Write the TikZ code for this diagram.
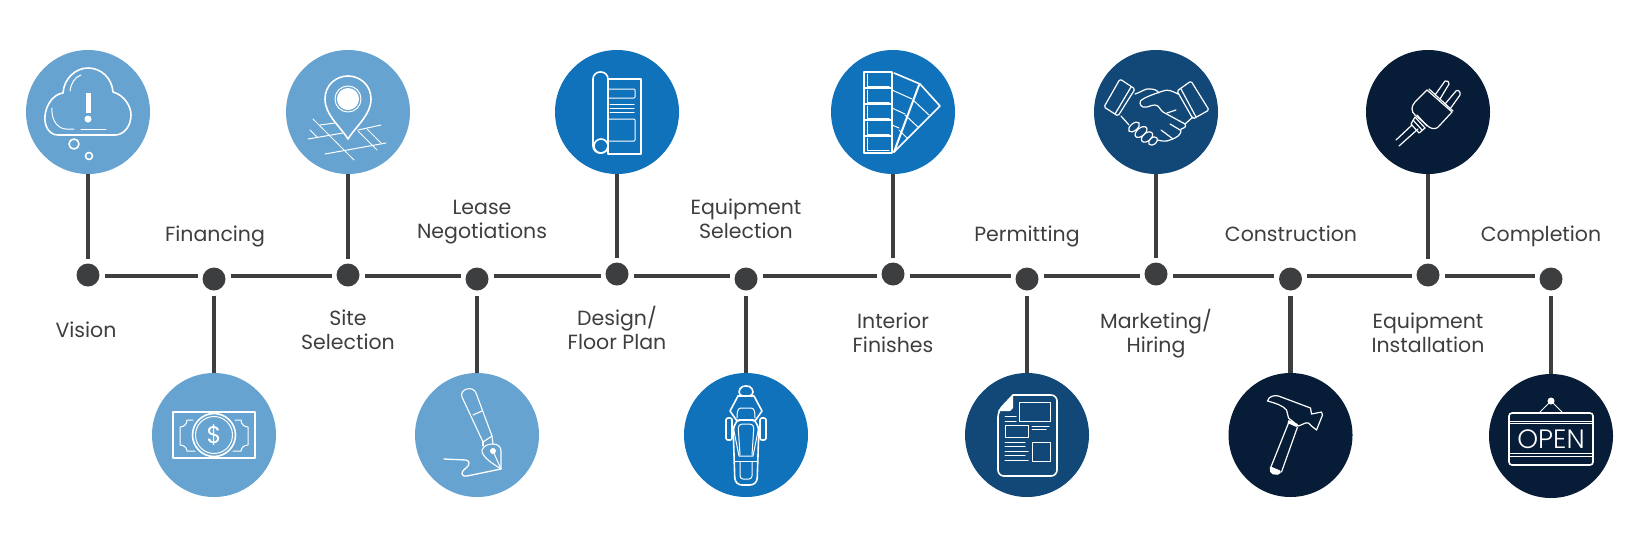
\documentclass[tikz,border=0pt]{standalone}
\usepackage{fontspec}
\setmainfont{Poppins}
\newfontfamily\signfont{Poppins Light}
\definecolor{skyblue}{HTML}{66A3D0}
\definecolor{midblue}{HTML}{1172BC}
\definecolor{deepblue}{HTML}{114878}
\definecolor{navyblue}{HTML}{071C36}
\definecolor{ink}{HTML}{3D3E40}

\begin{document}
\begin{tikzpicture}[x=1pt,y=-1pt]
  \tikzstyle{icon}=[circle,minimum size=124pt,inner sep=0pt]
  \tikzstyle{dot}=[circle,fill=ink,minimum size=23pt,inner sep=0pt,outer sep=5pt]
  \tikzstyle{wire}=[ink,line width=4.6pt]
  \tikzstyle{stage}=[text=ink,align=center,inner sep=0pt,anchor=base,font=\fontsize{20.5}{24.5}\selectfont]
  \tikzstyle{glyph}=[white,line width=1.6pt,line join=round,line cap=round]
  \tikzstyle{fine}=[line width=1pt]
  \useasboundingbox (0,0) rectangle (1648,539);

  \node[icon,fill=skyblue] (icon1) at (88,112) {};
  \node[icon,fill=skyblue] (icon2) at (214,435) {};
  \node[icon,fill=skyblue] (icon3) at (348,112) {};
  \node[icon,fill=skyblue] (icon4) at (477,435) {};
  \node[icon,fill=midblue] (icon5) at (617,112) {};
  \node[icon,fill=midblue] (icon6) at (746,435) {};
  \node[icon,fill=midblue] (icon7) at (893,112) {};
  \node[icon,fill=deepblue] (icon8) at (1027,435) {};
  \node[icon,fill=deepblue] (icon9) at (1156,112) {};
  \node[icon,fill=navyblue] (icon10) at (1290.5,435) {};
  \node[icon,fill=navyblue] (icon11) at (1428,112) {};
  \node[icon,fill=navyblue] (icon12) at (1551,436) {};

  \node[dot] (dot1) at (88,275) {};
  \node[dot] (dot2) at (214,279) {};
  \node[dot] (dot3) at (348,275) {};
  \node[dot] (dot4) at (477,279) {};
  \node[dot] (dot5) at (617,274) {};
  \node[dot] (dot6) at (746,279) {};
  \node[dot] (dot7) at (893,274) {};
  \node[dot] (dot8) at (1027,279) {};
  \node[dot] (dot9) at (1156,274) {};
  \node[dot] (dot10) at (1290.5,279) {};
  \node[dot] (dot11) at (1428,275) {};
  \node[dot] (dot12) at (1551,279) {};

  \coordinate (axis) at (0,276);
  \foreach \a/\b in {1/2,2/3,3/4,4/5,5/6,6/7,7/8,8/9,9/10,10/11,11/12}
    \draw[wire] (dot\a.east |- axis) -- (dot\b.west |- axis);
  \foreach \a in {1,...,12}
    \draw[wire] (icon\a) -- (dot\a);

  \node[stage] (vision) at (86,337) {Vision};
  \node[stage] (financing) at (215,241) {Financing};
  \node[stage] (site) at (348,349.5) {Site\\Selection};
  \node[stage] (lease) at (482,238.5) {Lease\\Negotiations};
  \node[stage] (design) at (617,349.5) {Design/\\Floor Plan};
  \node[stage] (selection) at (746,238.5) {Equipment\\Selection};
  \node[stage] (finishes) at (893,352.5) {Interior\\Finishes};
  \node[stage] (permitting) at (1027,241) {Permitting};
  \node[stage] (hiring) at (1156,352.5) {Marketing/\\Hiring};
  \node[stage] (construction) at (1291,241) {Construction};
  \node[stage] (installation) at (1428,352.5) {Equipment\\Installation};
  \node[stage] (completion) at (1541,241) {Completion};

  \begin{scope}[shift={(icon1)},glyph]
    \draw (-30,23) .. controls (-40,23) and (-44,12) .. (-43,4) .. controls (-42,-8) and (-34,-18) .. (-25,-19)
      .. controls (-24,-34) and (-12,-44) .. (0,-44) .. controls (13,-44) and (24,-34) .. (25,-20)
      .. controls (36,-17) and (43,-6) .. (43,3) .. controls (43,14) and (36,23) .. (27,23) -- cycle;
    \draw[fine] (-36,-4) .. controls (-37,8) and (-30,17) .. (-22,17) -- (-14,17);
    \draw[fine] (-7,17) -- (18,17);
    \draw[fine] (-7,-37) .. controls (-13,-35) and (-17,-29) .. (-18,-21);
    \draw[line width=5pt,line cap=butt] (0,-19) -- (0,1);
    \fill (0,7) circle (3.5);
    \draw (-14,32) circle (5);
    \draw (1,44) circle (3.5);
  \end{scope}

  \begin{scope}[shift={(icon2)},glyph]
    \draw (-41,-23) rectangle (41,23);
    \draw[fine] (-21,-15) -- (-27,-15) .. controls (-27,-11) and (-30,-8) .. (-34,-8) -- (-34,10)
      .. controls (-30,10) and (-27,13) .. (-27,16) -- (-19,16);
    \draw[fine] (21,-15) -- (27,-15) .. controls (27,-11) and (30,-8) .. (34,-8) -- (34,10)
      .. controls (30,10) and (27,13) .. (27,16) -- (19,16);
    \draw (0,0) circle (21.5);
    \draw[fine] (0,0) circle (18.5);
    \node[white,inner sep=0pt,font=\fontsize{24}{24}\selectfont] (dollar) at (0,0) {\$};
  \end{scope}

  \begin{scope}[shift={(icon3)},glyph]
    \draw (0,27) .. controls (-8,14) and (-23,3) .. (-23,-13) .. controls (-23,-27) and (-12,-36) .. (0,-36)
      .. controls (12,-36) and (23,-27) .. (23,-13) .. controls (23,3) and (8,14) .. (0,27) -- cycle;
    \fill (0,-13) circle (11);
    \draw[fine] (0,-13) circle (13);
    \draw[fine] (-35,7) -- (6,48);
    \draw[fine] (-38,18) -- (-31,25);
    \draw[fine] (-40,27) -- (-5,21);
    \draw[fine] (-28,13) -- (-13,11);
    \draw[fine] (10,18) -- (33,13);
    \draw[fine] (-23,42) -- (38,31);
    \draw[fine] (10,19) -- (29,38);
    \draw[fine] (19,17) -- (33,31);
  \end{scope}

  \begin{scope}[shift={(icon4)},glyph,line width=1.1pt]
    \draw (-15,-38) .. controls (-18,-46) and (-4,-50) .. (-1,-42) -- (15,1) -- (6,7) -- cycle;
    \draw (-4,-20) -- (5,-24);
    \draw (5,15) .. controls (7,10) and (12,9) .. (16,9) .. controls (21,9) and (24,12) .. (24,16) -- (24,34)
      .. controls (18,30) and (4,22) .. (5,15) -- cycle;
    \draw (6,7) -- (6,11);
    \draw (15,1) -- (16,9);
    \fill (16,16) circle (3);
    \draw[fine] (16,16) -- (24,34);
    \draw[line width=1.3pt] (-33,24) -- (-11,25) .. controls (-6,26) and (-8,31) .. (-11,33)
      .. controls (-16,36) and (-17,42) .. (-10,41) -- (24,34);
  \end{scope}

  \begin{scope}[shift={(icon5)},glyph]
    \draw (-9,-33) rectangle (24,42);
    \draw[rounded corners=7pt] (-24,-40) rectangle (-9,41);
    \draw (-16,34) circle (7);
    \draw[fine,rounded corners=1pt] (-9,-23) -- (18,-23) -- (18,-14) -- (-9,-14);
    \draw[fine] (-7,-7.5) -- (17,-7.5);
    \draw[fine] (-7,-3.3) -- (17,-3.3);
    \draw[fine] (-7,0.7) -- (17,0.7);
    \draw[fine,rounded corners=1pt] (-9,7) -- (18,7) -- (18,29) -- (-9,29);
  \end{scope}

  \begin{scope}[shift={(icon6)},glyph]
    \draw[rounded corners=4pt] (-7,-39) -- (-7,-47) -- (0,-50) -- (7,-47) -- (7,-39) -- cycle;
    \draw (-8,-39) -- (8,-39) -- (16,-24) -- (9,-14);
    \draw (-8,-39) -- (-16,-24) -- (-9,-14);
    \draw[fine] (-9,-17) .. controls (-9,-24) and (-8,-27) .. (-5,-27) -- (5,-27) .. controls (8,-27) and (9,-24) .. (9,-17);
    \draw[rounded corners=7pt] (-13,-10) .. controls (-10,-13) and (-5,-15) .. (0,-15) .. controls (5,-15) and (10,-13) .. (13,-10)
      -- (11,50) -- (-11,50) -- cycle;
    \draw[rounded corners=2pt] (-20,-17) rectangle (-14,5);
    \draw[rounded corners=2pt] (14,-17) rectangle (20,5);
    \draw[fine,rounded corners=4pt] (-6,20) -- (-8,-11) -- (8,-11) -- (6,20);
    \draw[fine] (-13,-9) -- (-7,21) -- (7,21) -- (13,-9);
    \draw[fine] (-11,26) -- (11,26);
    \draw[fine,rounded corners=3pt] (-6,27) -- (-6,44) -- (6,44) -- (6,27);
  \end{scope}

  \begin{scope}[shift={(icon7)},glyph]
    \draw (-29,-40) rectangle (-1,41);
    \foreach \y in {-24,-8,8,24}
      \draw (-29,\y) -- (-1,\y);
    \foreach \y in {-38,-22,-6,10,26}
      \draw[fine] (-26,\y) -- (-26,\y+12) -- (-4,\y+12);
    \draw (1,-39) -- (27,-28) -- (47,-6) -- (1,40);
    \draw[line width=2pt] (1,40) -- (26,-27);
    \draw[fine] (-1,-22) -- (19,-13);
    \draw[fine] (-1,-4) -- (12,2);
    \draw[fine] (-1,13) -- (6,16);
    \draw[fine] (20,-12) -- (36,3);
    \draw[fine] (12,3) -- (25,15);
    \draw[fine] (6,18) -- (14,26);
  \end{scope}

  \begin{scope}[shift={(icon8)},glyph]
    \draw[rounded corners=6pt] (-29,-24) [sharp corners] -- (-14,-40) [rounded corners=6pt] -- (30,-40) -- (30,41) -- (-29,41) -- cycle;
    \fill[line width=0.5pt] (-29,-24) -- (-14,-40) -- (-14,-27) -- (-17,-24) -- cycle;
    \draw[fine] (-8,-33) rectangle (23,-14);
    \draw[fine] (-22,-10) rectangle (1,2);
    \draw[fine] (5,7) rectangle (23,26);
    \draw[fine] (-22,-19) -- (-11,-19);
    \draw[fine] (-22,-14) -- (-11,-14);
    \draw[fine] (5,-9) -- (22,-9);
    \draw[fine] (5,-6) -- (19,-6);
    \draw[fine] (-22,7) -- (-2,7);
    \draw[fine] (-22,11) -- (-2,11);
    \draw[fine] (-22,16) -- (1,16);
    \draw[fine] (-22,20) -- (-2,20);
    \draw[fine] (-22,25) -- (1,25);
  \end{scope}

  \begin{scope}[shift={(icon9)},glyph,line width=1.2pt]
    \draw[rounded corners=1.5pt] (-36,-33) -- (-21,-23) -- (-38,4) -- (-52,-5) -- cycle;
    \draw (-25,-25) -- (-41,2);
    \draw[rounded corners=1.5pt] (35,-31) -- (53,-2) -- (37,7) -- (21,-21) -- cycle;
    \draw (25,-23) -- (40,5);
    \draw (-21,-18) .. controls (-14,-20) and (-11,-24) .. (-6,-23) .. controls (-2,-23) and (1,-22) .. (3,-19);
    \draw (-35,4) -- (-27,13);
    \draw (22,-18) .. controls (16,-21) and (12,-23) .. (7,-21) .. controls (1,-19) and (-8,-16) .. (-13,-13)
      .. controls (-18,-11) and (-16,-6) .. (-13,-5) .. controls (-8,-4) and (-6,-7) .. (-1,-7)
      .. controls (3,-7) and (4,-2) .. (7,0) -- (29,12) .. controls (31,15) and (28,16) .. (25,17)
      .. controls (26,23) and (20,26) .. (14,28) .. controls (10,30) and (5,29) .. (2,28);
    \draw (29,12) -- (37,5);
    \draw (11,1) -- (20,-2);
    \draw (5,18) -- (17,27);
    \draw (14,12) -- (24,18);
    \draw[rotate around={40:(-22,15)}] (-22,15) ellipse (6.5 and 3.5);
    \draw[rotate around={40:(-15,20)}] (-15,20) ellipse (7 and 4);
    \draw[rotate around={40:(-9,25)}] (-9,25) ellipse (6.5 and 4);
    \draw[rotate around={40:(-3,29)}] (-3,29) ellipse (5 and 3.5);
  \end{scope}

  \begin{scope}[shift={(icon10)},glyph,line width=1.2pt]
    \draw (-23,-34) .. controls (-22,-39) and (-16,-40) .. (-12,-39) -- (20,-27) -- (21,-21) -- (31,-23) -- (32,-20)
      -- (26,-5) -- (21,-9) -- (18,-12) -- (15,-12) -- (8,-9) -- (-2,-17) -- (-4,-25) .. controls (-8,-30) and (-16,-32) .. (-23,-34) -- cycle;
    \fill (-2,-15) -- (7,-11) -- (6,-8) -- (-3,-12) -- cycle;
    \draw (-2,-12) -- (-20,33);
    \draw (7,-8) -- (-9,37);
    \fill[rounded corners=2pt] (-21,31) -- (-9,36) -- (-11,40) -- (-20,39) -- cycle;
  \end{scope}

  \begin{scope}[shift={(icon11)},glyph,line width=1.2pt]
    \draw (-1,-22) -- (24,0);
    \draw (1,-23) -- (25,-1);
    \draw (-1,-22) -- (-13,-10) .. controls (-17,-6) and (-17,0) .. (-13,3) -- (1,15) .. controls (4,17) and (9,18) .. (12,13) -- (24,0);
    \draw (7,-17) -- (17,-31) .. controls (19,-32) and (22,-30) .. (21,-28) -- (12,-13);
    \draw (17,-8) -- (28,-21) .. controls (30,-23) and (33,-20) .. (32,-17) -- (22,-3);
    \draw (-13,5) -- (-3,16) -- (-9,21) -- (-17,12) -- cycle;
    \draw (-15,8) -- (-6,18);
    \draw (-11,3) -- (-1,14);
    \draw (-16,13) -- (-32,28);
    \draw (-10,17) -- (-29,34);
  \end{scope}

  \begin{scope}[shift={(icon12)},glyph]
    \draw[rounded corners=3pt] (-42,-23) rectangle (42,29);
    \foreach \y in {-15,-13,17,20}
      \draw[fine] (-42,\y) -- (42,\y);
    \fill (0,-35) circle (3.5);
    \draw[fine] (-12,-23) -- (0,-35) -- (12,-23);
    \node[white,inner sep=0pt,font=\signfont\fontsize{26.5}{26.5}\selectfont] (open) at (0,3) {OPEN};
  \end{scope}
\end{tikzpicture}
\end{document}
